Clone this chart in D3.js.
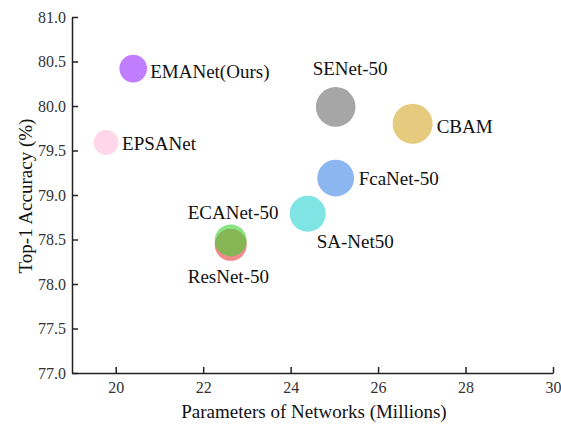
<!DOCTYPE html>
<html>
<head>
<meta charset="utf-8">
<script src="https://cdn.jsdelivr.net/npm/d3@7"></script>
<style>
  body { margin: 0; background: #fff; }
  svg { font-family: "Liberation Serif", "Times New Roman", serif; }
</style>
</head>
<body>
<div id="chart"></div>
<script>
// data
const names  = ["EMANet(Ours)", "EPSANet", "SENet-50", "CBAM", "FcaNet-50", "SA-Net50", "ResNet-50", "ECANet-50"];
const params = [20.4, 19.78, 25.03, 26.79, 25.03, 24.39, 22.63, 22.63];   // millions
const top1   = [80.42, 79.59, 79.99, 79.80, 79.19, 78.79, 78.44, 78.49];  // %
const bubble = [0.69, 0.62, 0.99, 1.0, 0.92, 0.9, 0.8, 0.8];              // relative bubble size
const colors = ["#c07dfd", "#ffd6ea", "#a6a6a6", "#e6ca7e", "#8cb6ef", "#7ee4e4", "rgba(235,60,60,0.6)", "rgba(60,210,50,0.6)"];
const xTicks = [20, 22, 24, 26, 28, 30];
const yTicks = [77.0, 77.5, 78.0, 78.5, 79.0, 79.5, 80.0, 80.5, 81.0];

const w = 561, h = 427;

let svg = d3.select('#chart')
  .append('svg')
  .attr('width', w)
  .attr('height', h);

let xScale = d3.scaleLinear().domain([19, 30]).range([72, 553]);
let yScale = d3.scaleLinear().domain([77, 81]).range([373, 17]);
let rScale = d3.scaleLinear().domain([0, 1]).range([0, 20]);

// axes, ticks pointing inward
let xAxis = d3.axisBottom(xScale).tickValues(xTicks).tickSizeInner(-6).tickSizeOuter(0).tickPadding(9);
let yAxis = d3.axisLeft(yScale).tickValues(yTicks).tickFormat(d3.format('.1f')).tickSizeInner(-6).tickSizeOuter(0).tickPadding(6);

let gx = svg.append('g')
  .attr('transform', 'translate(0,373)')
  .call(xAxis);
let gy = svg.append('g')
  .attr('transform', 'translate(72,0)')
  .call(yAxis);

[gx, gy].forEach(g => {
  g.attr('font-family', 'Liberation Serif').attr('font-size', 16);
  g.selectAll('path, line').attr('stroke', '#222').attr('stroke-width', 1.5);
  g.selectAll('text').attr('fill', '#333');
});

// bubbles
const pts = names.map((n, i) => ({ name: n, x: params[i], y: top1[i], s: bubble[i], c: colors[i] }));

svg.append('g')
  .selectAll('circle')
  .data(pts)
  .enter()
  .append('circle')
  .attr('cx', d => xScale(d.x))
  .attr('cy', d => yScale(d.y))
  .attr('r', d => rScale(d.s))
  .attr('fill', d => d.c);

// labels: offset from each bubble centre
const labelOff = {
  "EMANet(Ours)": [17, 9],
  "EPSANet": [16, 8],
  "SENet-50": [-23, -32],
  "CBAM": [24, 9],
  "FcaNet-50": [23, 7],
  "SA-Net50": [9, 34],
  "ResNet-50": [-43, 38],
  "ECANet-50": [-43, -21]
};

svg.append('g')
  .selectAll('text')
  .data(pts)
  .enter()
  .append('text')
  .attr('x', d => xScale(d.x) + labelOff[d.name][0])
  .attr('y', d => yScale(d.y) + labelOff[d.name][1])
  .attr('fill', '#111')
  .style('font-size', '19px')
  .text(d => d.name);

// axis titles
svg.append('text')
  .attr('x', 314)
  .attr('y', 418)
  .attr('text-anchor', 'middle')
  .attr('fill', '#111')
  .style('font-size', '19px')
  .text('Parameters of Networks (Millions)');

svg.append('text')
  .attr('transform', 'translate(32,196) rotate(-90)')
  .attr('text-anchor', 'middle')
  .attr('fill', '#111')
  .style('font-size', '19px')
  .text('Top-1 Accuracy (%)');
</script>
</body>
</html>
